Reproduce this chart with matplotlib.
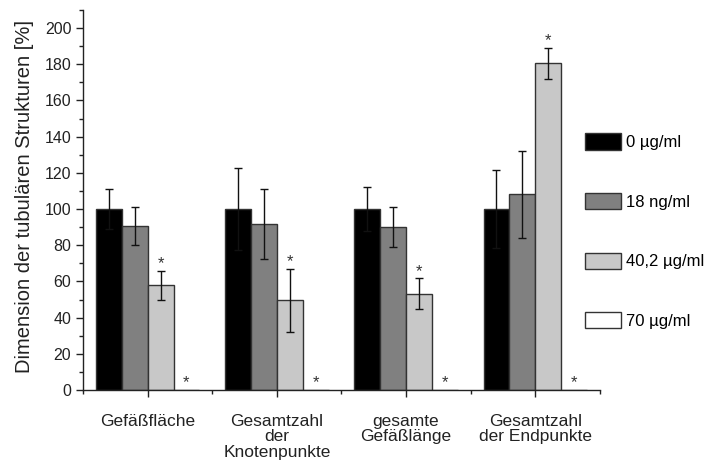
import numpy as np
import matplotlib
matplotlib.use("Agg")
import matplotlib.pyplot as plt
from matplotlib.ticker import MultipleLocator

plt.rcParams['font.family'] = ['Liberation Sans', 'DejaVu Sans']

categories = ["Gefäßfläche", "Gesamtzahl\nder\nKnotenpunkte",
              "gesamte\nGefäßlänge", "Gesamtzahl\nder Endpunkte"]
series = ["0 µg/ml", "18 ng/ml", "40,2 µg/ml", "70 µg/ml"]
values = [
    [100, 100, 100, 100],
    [90.5, 91.6, 90, 108.2],
    [58, 49.5, 53.2, 180.4],
    [0, 0, 0, 0],
]
errors = [
    [11, 22.5, 12, 21.5],
    [10.5, 19.3, 11, 24],
    [8, 17.5, 8.5, 8.5],
    [0, 0, 0, 0],
]
# significance markers (series index 2 and 3)
star_series = [2, 3]

colors = ["#000000", "#808080", "#c8c8c8", "#ffffff"]
edge = "#333333"

fig = plt.figure(figsize=(7.04, 4.70), dpi=100)
ax = fig.add_axes([0.118, 0.170, 0.734, 0.809])

x = np.arange(1, len(categories) + 1)
width = 0.2
offsets = [-0.3, -0.1, 0.1, 0.3]

handles = []
for i in range(len(series)):
    b = ax.bar(x + offsets[i], values[i], width, color=colors[i],
               edgecolor=edge, linewidth=1.0, label=series[i], zorder=2)
    handles.append(b)
    if i < 3:
        ax.errorbar(x + offsets[i], values[i], yerr=errors[i], fmt='none',
                    ecolor='#111111', elinewidth=1.0, capsize=3, capthick=1.0,
                    zorder=3)

for i in star_series:
    for j in range(len(categories)):
        top = values[i][j] + errors[i][j]
        ax.text(x[j] + offsets[i], top + 1.5, "*", ha='center', va='baseline',
                fontsize=12, color='#333333', zorder=4)

ax.set_xlim(0.5, 4.5)
ax.set_ylim(0, 210)
ax.set_xticks(x)
ax.set_xticklabels(categories, fontsize=12.5, color='#222222', linespacing=1.05)
ax.set_xticks(np.arange(0.5, 4.6, 1.0), minor=True)
ax.set_yticks(np.arange(0, 201, 20))
ax.yaxis.set_minor_locator(MultipleLocator(10))
ax.tick_params(axis='y', labelsize=11.5, labelcolor='#222222')
ax.tick_params(which='major', direction='out', length=5, width=1, color='#222222')
ax.tick_params(which='minor', direction='out', length=3, width=1, color='#222222')
ax.tick_params(axis='x', which='major', length=5, pad=12)
ax.set_ylabel("Dimension der tubulären Strukturen [%]", fontsize=14.5,
              color='#222222')
ax.yaxis.set_label_coords(-0.094, 0.51)

for s in ['top', 'right']:
    ax.spines[s].set_visible(False)
for s in ['left', 'bottom']:
    ax.spines[s].set_color('#222222')
    ax.spines[s].set_linewidth(1.0)

fig.legend(handles=handles, labels=series, loc='upper left',
           bbox_to_anchor=(0.831, 0.716), frameon=False, fontsize=12,
           handlelength=2.15, handleheight=1.12, labelspacing=2.57,
           handletextpad=0.3, borderaxespad=0, borderpad=0)

fig.savefig("out.png", dpi=100)
